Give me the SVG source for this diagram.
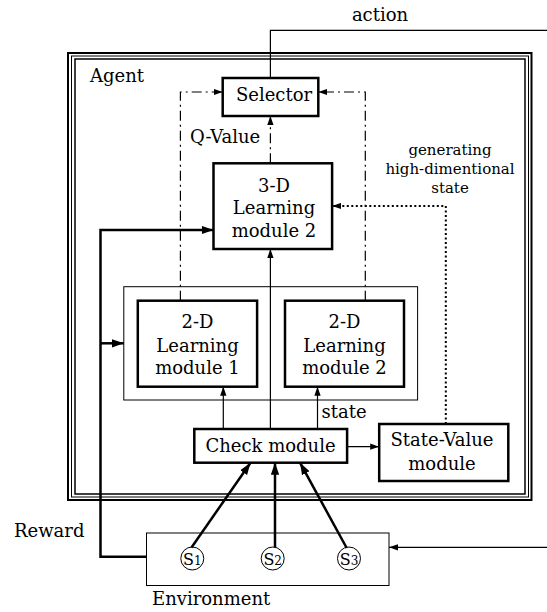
<svg xmlns="http://www.w3.org/2000/svg" width="547" height="612" viewBox="0 0 547 612">
<style>
text{font-family:"DejaVu Serif","Liberation Serif",serif;font-size:18px;fill:#000}
.sm{font-size:15px}
.box{fill:#fff;stroke:#000;stroke-width:2.5}
.thin{fill:none;stroke:#000;stroke-width:1}
.c{fill:none;stroke:#000;stroke-width:1.2}
.dd{fill:none;stroke:#000;stroke-width:1.2;stroke-dasharray:10 4 2 4}
.dot{fill:none;stroke:#000;stroke-width:2;stroke-dasharray:2 2.5}
.thick{fill:none;stroke:#000;stroke-width:2.5}
.m{text-anchor:middle}
.s{font-size:16px}
.sub{font-size:12px}
</style>
<defs>
<marker id="arr" viewBox="0 0 10 7" refX="10" refY="3.5" markerWidth="9" markerHeight="7" markerUnits="userSpaceOnUse" orient="auto"><path d="M0,0 L10,3.5 L0,7 z" fill="#000"/></marker>
<marker id="arrB" viewBox="0 0 10 7" refX="10" refY="3.5" markerWidth="12" markerHeight="9" markerUnits="userSpaceOnUse" orient="auto"><path d="M0,0 L10,3.5 L0,7 z" fill="#000"/></marker>
</defs>
<g id="agent">
<rect x="68" y="53" width="463.5" height="447" fill="none" stroke="#000" stroke-width="2"/>
<rect x="71.5" y="56" width="457" height="441" fill="none" stroke="#000" stroke-width="1"/>
<rect x="75" y="59" width="450" height="435" fill="none" stroke="#000" stroke-width="1.5"/>
<text x="90" y="82">Agent</text>
</g>
<g id="inner-container">
<rect x="123.8" y="286.7" width="293.8" height="113.3" class="thin"/>
</g>
<g id="selector">
<rect x="222.7" y="78" width="95.6" height="38" class="box"/>
<text x="274" y="101" class="m">Selector</text>
</g>
<g id="learning3d">
<rect x="213.5" y="163.3" width="118.6" height="85.7" class="box"/>
<text x="274" y="191.7" class="m">3-D</text>
<text x="274" y="214" class="m">Learning</text>
<text x="274" y="237" class="m">module 2</text>
</g>
<g id="learning2d-1">
<rect x="137.8" y="300.7" width="119.3" height="86" class="box"/>
<text x="197.5" y="328" class="m">2-D</text>
<text x="197.5" y="351.7" class="m">Learning</text>
<text x="197.5" y="374" class="m">module 1</text>
</g>
<g id="learning2d-2">
<rect x="285" y="300.7" width="119" height="86" class="box"/>
<text x="344.5" y="328" class="m">2-D</text>
<text x="344.5" y="351.7" class="m">Learning</text>
<text x="344.5" y="374" class="m">module 2</text>
</g>
<g id="check">
<rect x="194.3" y="429" width="152.8" height="33.7" class="box"/>
<text x="270.5" y="451.7" class="m">Check module</text>
</g>
<g id="statevalue">
<rect x="379.2" y="424" width="129.1" height="57" class="box"/>
<text x="442" y="446" class="m">State-Value</text>
<text x="442" y="470" class="m">module</text>
</g>
<g id="environment">
<rect x="146.5" y="533" width="242.5" height="52.5" class="thin"/>
<text x="152" y="605">Environment</text>
</g>
<g id="s1">
<circle cx="192.3" cy="558.5" r="11.5" class="thin"/>
<text x="192.3" y="564.5" class="m s">S<tspan class="sub">1</tspan></text>
</g>
<g id="s2">
<circle cx="272.7" cy="558.5" r="11.5" class="thin"/>
<text x="272.7" y="564.5" class="m s">S<tspan class="sub">2</tspan></text>
</g>
<g id="s3">
<circle cx="349" cy="558.5" r="11.5" class="thin"/>
<text x="349" y="564.5" class="m s">S<tspan class="sub">3</tspan></text>
</g>
<g id="connectors">
<path d="M270.4,78 V30.3 H547" class="c"/>
<path d="M180.4,300.7 V92 H222.7" class="dd" marker-end="url(#arr)"/>
<path d="M365.3,300.7 V92 H318.3" class="dd" marker-end="url(#arr)"/>
<path d="M270.4,163.3 V116" class="dd" marker-end="url(#arr)"/>
<path d="M270.4,429 V249" class="c" marker-end="url(#arr)"/>
<path d="M223.3,429 V386.7" class="c" marker-end="url(#arr)"/>
<path d="M317.5,429 V386.7" class="c" marker-end="url(#arr)"/>
<path d="M347.1,446.7 H379.2" class="c" marker-end="url(#arr)"/>
<path d="M445.8,424 V206 H332.1" class="dot" marker-end="url(#arr)"/>
<path d="M146.5,556.7 H100.5 V230 H213.5" class="thick" marker-end="url(#arrB)"/>
<path d="M100.5,343.3 H123.8" class="thick" marker-end="url(#arrB)"/>
<path d="M191.5,547.5 L250.5,462.7" class="thick" marker-end="url(#arrB)"/>
<path d="M275,547 V462.7" class="thick" marker-end="url(#arrB)"/>
<path d="M346.7,548 L300,462.7" class="thick" marker-end="url(#arrB)"/>
<path d="M547,547.3 H389" class="c" marker-end="url(#arr)"/>
<text x="380" y="20.7" class="m">action</text>
<text x="190" y="143.3">Q-Value</text>
<text x="450" y="155" class="m sm">generating</text>
<text x="450" y="174" class="m sm">high-dimentional</text>
<text x="450" y="193.3" class="m sm">state</text>
<text x="321.6" y="418">state</text>
<text x="14" y="537.3">Reward</text>
</g>
</svg>
